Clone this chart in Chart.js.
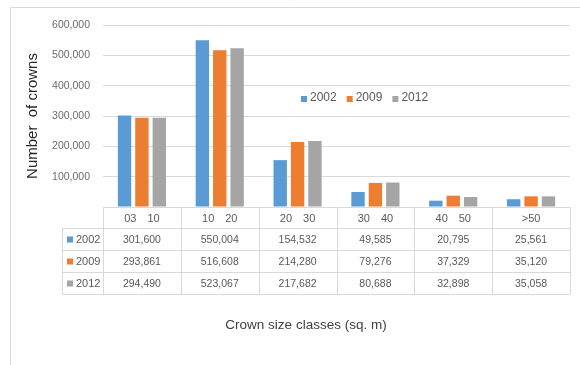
<!DOCTYPE html>
<html>
<head>
<meta charset="utf-8">
<script src="https://cdn.jsdelivr.net/npm/chart.js@4/dist/chart.umd.min.js"></script>
<style>
  html, body { margin: 0; padding: 0; background: #fff; }
  canvas { display: block; }
</style>
</head>
<body>
<canvas id="crownChart" width="580" height="365"></canvas>
<script>
// ---------------- DATA ----------------
const categories = ["03\u2002\u200210", "10\u2002\u200220", "20\u2002\u200230", "30\u2002\u200240", "40\u2002\u200250", ">50"];
const years = ["2002", "2009", "2012"];
const values2002 = [301600, 550004, 154532, 49585, 20795, 25561];
const values2009 = [293861, 516608, 214280, 79276, 37329, 35120];
const values2012 = [294490, 523067, 217682, 80688, 32898, 35058];
const yTicks = [0, 100000, 200000, 300000, 400000, 500000, 600000];

const colors = ["#5b9bd5", "#ed7d31", "#a5a5a5"];
const FONT = "'Liberation Sans', Arial, sans-serif";
const gridColor = "#d9d9d9";

// ---------------- TABLE + LEGEND PLUGIN ----------------
const tablePlugin = {
  id: "dataTable",
  beforeDraw(chart) {
    const ctx = chart.ctx;
    ctx.save();
    ctx.fillStyle = "#fff";
    ctx.fillRect(0, 0, chart.width, chart.height);
    // outer frame
    ctx.strokeStyle = gridColor;
    ctx.lineWidth = 1;
    ctx.beginPath();
    ctx.moveTo(10.5, chart.height);
    ctx.lineTo(10.5, 7.5);
    ctx.lineTo(chart.width, 7.5);
    ctx.stroke();
    ctx.restore();
  },
  afterDraw(chart) {
    const ctx = chart.ctx;
    const xs = chart.scales.x;
    const area = chart.chartArea;
    const colW = xs.width / categories.length;
    const top = area.bottom;
    const rowLines = [top, top + 21, top + 43, top + 65, top + 87];
    const legendLeft = area.left - 41;
    const sets = chart.data.datasets;

    ctx.save();
    ctx.strokeStyle = gridColor;
    ctx.lineWidth = 1;
    ctx.beginPath();
    // horizontal lines
    ctx.moveTo(area.left, Math.round(rowLines[0]) + 0.5);
    ctx.lineTo(area.right, Math.round(rowLines[0]) + 0.5);
    for (let r = 1; r < rowLines.length; r++) {
      const y = Math.round(rowLines[r]) + 0.5;
      ctx.moveTo(legendLeft, y);
      ctx.lineTo(area.right, y);
    }
    // vertical lines
    for (let c = 0; c <= categories.length; c++) {
      const x = Math.round(area.left + c * colW) + 0.5;
      ctx.moveTo(x, rowLines[0]);
      ctx.lineTo(x, rowLines[4]);
    }
    ctx.moveTo(legendLeft + 0.5, rowLines[1]);
    ctx.lineTo(legendLeft + 0.5, rowLines[4]);
    ctx.stroke();

    ctx.textBaseline = "middle";
    ctx.textAlign = "center";
    ctx.fillStyle = "#595959";
    // header
    ctx.font = "11px " + FONT;
    categories.forEach((cat, i) => {
      ctx.fillText(cat, xs.getPixelForValue(i), (rowLines[0] + rowLines[1]) / 2 + 1);
    });
    // rows
    sets.forEach((ds, r) => {
      const yMid = (rowLines[r + 1] + rowLines[r + 2]) / 2 + 1;
      ctx.font = "10.5px " + FONT;
      ctx.textAlign = "center";
      ctx.fillStyle = "#595959";
      ds.data.forEach((v, i) => {
        ctx.fillText(v.toLocaleString("en-US"), xs.getPixelForValue(i), yMid);
      });
      ctx.fillStyle = ds.backgroundColor;
      ctx.fillRect(legendLeft + 5, yMid - 3.5, 6, 6);
      ctx.fillStyle = "#595959";
      ctx.textAlign = "left";
      ctx.font = "11px " + FONT;
      ctx.fillText(ds.label, legendLeft + 14, yMid);
    });

    // legend inside plot
    ctx.font = "12px " + FONT;
    let lx = 301;
    const ly = area.top + 73;
    sets.forEach(ds => {
      ctx.fillStyle = ds.backgroundColor;
      ctx.fillRect(lx, ly - 2, 6, 6);
      ctx.fillStyle = "#595959";
      ctx.textAlign = "left";
      ctx.fillText(ds.label, lx + 9, ly);
      lx += 9 + ctx.measureText(ds.label).width + 10;
    });

    // x axis title
    ctx.fillStyle = "#404040";
    ctx.textAlign = "center";
    ctx.font = "13.5px " + FONT;
    ctx.fillText("Crown size classes (sq. m)", 306, 325);
    ctx.restore();
  }
};

// ---------------- CHART ----------------
const ctx = document.getElementById("crownChart").getContext("2d");
new Chart(ctx, {
  type: "bar",
  data: {
    labels: categories,
    datasets: [
      { label: years[0], data: values2002, backgroundColor: colors[0] },
      { label: years[1], data: values2009, backgroundColor: colors[1] },
      { label: years[2], data: values2012, backgroundColor: colors[2] }
    ]
  },
  options: {
    responsive: false,
    animation: false,
    layout: { padding: { left: 20, right: 10, top: 25, bottom: 158 } },
    datasets: { bar: { categoryPercentage: 0.67, barPercentage: 0.77 } },
    plugins: {
      legend: { display: false },
      tooltip: { enabled: false }
    },
    scales: {
      x: { display: false },
      y: {
        min: yTicks[0],
        max: yTicks[yTicks.length - 1],
        afterBuildTicks(scale) { scale.ticks = yTicks.map(v => ({ value: v })); },
        afterFit(scale) { scale.width = 83; },
        ticks: {
          padding: 13,
          color: "#6b6b6b",
          font: { family: FONT, size: 10.5 },
          callback: v => (v === 0 ? "" : v.toLocaleString("en-US"))
        },
        grid: { color: gridColor, drawTicks: false },
        border: { display: false },
        title: {
          display: true,
          text: "Number  of crowns",
          color: "#262626",
          font: { family: FONT, size: 15 },
          padding: { top: 4, bottom: 0 }
        }
      }
    }
  },
  plugins: [tablePlugin]
});
</script>
</body>
</html>
